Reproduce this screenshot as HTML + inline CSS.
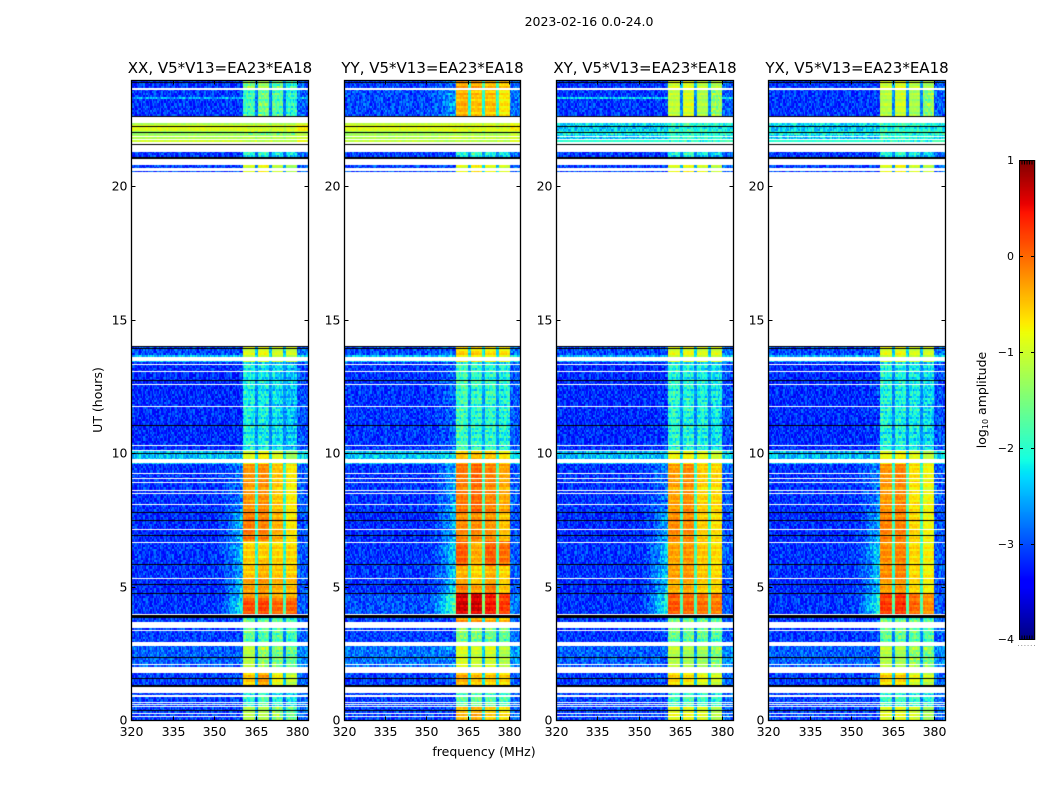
<!DOCTYPE html>
<html>
<head>
<meta charset="utf-8">
<title>2023-02-16 dynamic spectra</title>
<style>
html,body{margin:0;padding:0;background:#fff;}
#figure{position:relative;width:1050px;height:800px;overflow:hidden;background:#fff;font-family:"DejaVu Sans","Liberation Sans",sans-serif;}
canvas{position:absolute;display:block;}
#overlay{position:absolute;left:0;top:0;}
</style>
</head>
<body>
<div id="figure">
<canvas id="cv0"></canvas>
<canvas id="cv1"></canvas>
<canvas id="cv2"></canvas>
<canvas id="cv3"></canvas>
<canvas id="cvbar"></canvas>
<svg id="overlay" width="1050" height="800" viewBox="0 0 1050 800"></svg>
</div>
<script>
// ---------- chart data ----------
const panelTitles = ["XX, V5*V13=EA23*EA18","YY, V5*V13=EA23*EA18","XY, V5*V13=EA23*EA18","YX, V5*V13=EA23*EA18"];
const figureTitle = "2023-02-16 0.0-24.0";
const freqTicks = [320,335,350,365,380];
const hourTicks = [0,5,10,15,20];
const colorTicks = [1,0,-1,-2,-3,-4];
const colorMinorTicks = [0.98,0.95,0.9,0.85,0.78,-3.78,-3.85,-3.9,-3.95,-3.98];

// frequency structure (MHz): four RFI sub-bands separated by narrow gaps
const subBands = [[360.5,365],[365.8,370],[370.8,375],[375.8,380]];
const gapBands = [[365,365.8],[370,370.8],[375,375.8]];

// flagged (white) time ranges, hours [top, bottom]
const flaggedHours = [[23.70,23.64],[22.61,22.39],[21.90,21.86],[21.79,21.75],[21.66,21.60],[21.56,21.30],[21.04,20.81],[20.70,20.60],[20.55,14.03],[13.61,13.46],[13.35,13.31],[13.10,13.07],[12.60,12.56],[11.78,11.74],[10.31,10.28],[10.14,10.11],[9.79,9.62],[9.26,9.23],[9.06,9.02],[8.91,8.89],[8.64,8.60],[8.50,8.46],[8.10,8.06],[7.16,7.13],[6.68,6.64],[5.33,5.29],[3.98,3.94],[3.68,3.45],[3.38,3.33],[2.94,2.79],[2.09,2.05],[1.97,1.76],[1.22,1.01],[0.92,0.88],[0.68,0.64],[0.60,0.56],[0.53,0.49],[0.28,0.25],[0.14,0.11]];
// empty (black) integrations, hours [top, bottom]
const blackHours = [[23.93,23.87],[22.64,22.61],[22.28,22.24],[22.04,22.01],[21.60,21.56],[21.11,21.04],[14.03,14.00],[13.95,13.93],[12.75,12.71],[11.06,11.03],[10.02,9.99],[7.80,7.76],[7.50,7.46],[6.94,6.89],[5.84,5.80],[5.10,5.06],[4.75,4.72],[3.94,3.81],[2.35,2.31],[1.58,1.54],[1.33,1.22],[0.39,0.36]];

// log10 amplitude per time block: from, to, quiet, shoulder, band1, band2, band3, band4, gap
const levelsXX = [
[0,0.5,-3.05,-3.05,-1.2,-1.2,-1.4,-1.7,-2.6],[0.5,1.3,-3.05,-3.05,-2.05,-1.85,-2.15,-2.25,-2.9],
[1.3,2.0,-3.05,-2.95,-0.55,-0.3,-0.8,-1.1,-2.4],[2.0,2.9,-2.9,-2.9,-1.15,-1.35,-1.5,-1.65,-2.7],
[2.9,3.9,-3.05,-3.05,-1.7,-1.75,-1.75,-1.9,-2.7],[3.9,4.6,-3.12,-2.0,0.15,0.2,0.0,0.05,-1.8],
[4.6,5.3,-3.17,-2.3,-0.3,-0.25,-0.4,-0.45,-2.0],[5.3,6.0,-3.12,-2.5,-0.5,-0.4,-0.5,-0.55,-2.0],
[6.0,6.7,-3.12,-2.4,-0.55,-0.55,-0.6,-0.6,-2.0],[6.7,7.8,-3.17,-2.4,-0.1,-0.15,-0.4,-0.7,-2.0],
[7.8,9.6,-3.12,-2.7,-0.25,-0.2,-0.5,-0.7,-2.0],[9.6,10.05,-2.4,-2.4,-0.9,-0.75,-0.9,-1.3,-2.2],
[10.05,13.45,-3.17,-3.17,-2.1,-2.15,-2.25,-2.4,-2.7],[13.45,13.7,-2.4,-2.4,-1.0,-0.9,-1.0,-1.1,-2.2],
[13.7,14.1,-3.0,-3.0,-0.95,-0.85,-1.0,-1.0,-2.4],[20.5,20.95,-3.05,-3.05,-1.0,-0.8,-1.1,-1.3,-2.6],
[20.95,21.35,-3.1,-3.1,-2.05,-1.95,-2.15,-2.25,-2.9],[21.35,21.75,-1.0,-1.0,-1.0,-1.0,-1.0,-1.0,-1.1],
[21.75,21.9,-1.2,-1.2,-1.2,-1.2,-1.2,-1.2,-1.3],[21.9,22.05,-1.35,-1.35,-1.35,-1.35,-1.35,-1.35,-1.5],
[22.05,22.3,-0.9,-0.9,-0.9,-0.9,-0.9,-0.9,-1.0],[22.3,22.5,-1.25,-1.25,-1.2,-1.2,-1.2,-1.2,-1.3],
[22.5,23.3,-3.1,-3.1,-1.85,-1.55,-1.75,-2.0,-2.8],[23.3,23.4,-2.5,-2.5,-1.85,-1.55,-1.75,-2.0,-2.8],
[23.4,23.7,-3.1,-3.1,-1.85,-1.55,-1.75,-2.0,-2.8],[23.7,24,-3.1,-3.1,-1.45,-1.25,-1.6,-1.95,-2.6]];
const levelsYY = [
[0,0.5,-3.05,-3.05,-0.5,-0.4,-0.6,-0.7,-2.2],[0.5,1.3,-3.05,-3.05,-1.75,-1.65,-1.75,-1.85,-2.7],
[1.3,2.0,-3.05,-2.95,-0.4,-0.5,-0.55,-0.6,-2.2],[2.0,2.9,-2.8,-2.75,-0.95,-1.05,-1.0,-1.2,-2.4],
[2.9,3.6,-3.05,-3.05,-1.45,-1.55,-1.55,-1.65,-2.6],[3.6,3.9,-3.05,-3.05,-0.3,-0.35,-0.4,-0.5,-2.2],
[3.9,4.7,-2.97,-1.6,0.65,0.65,0.45,0.25,-1.5],[4.7,5.1,-3.12,-2.2,-0.1,-0.3,-0.1,-0.5,-1.8],
[5.1,5.8,-3.12,-2.3,-0.4,-0.6,-0.4,-0.6,-1.8],[5.8,6.7,-3.12,-2.2,0.05,-0.35,0.05,-0.05,-1.7],
[6.7,7.8,-3.17,-2.4,-0.2,-0.2,-0.25,-0.5,-1.8],[7.8,9.6,-3.12,-2.5,-0.1,0.0,-0.15,-0.35,-1.8],
[9.6,10.05,-2.4,-2.3,-0.5,-0.45,-0.5,-0.7,-2.0],[10.05,13.45,-3.12,-2.85,-1.85,-1.95,-1.95,-2.05,-2.6],
[13.45,13.7,-2.4,-2.3,-0.7,-0.65,-0.75,-0.8,-2.0],[13.7,14.1,-3.0,-2.85,-0.6,-0.6,-0.7,-0.7,-2.2],
[20.5,20.95,-3.05,-3.05,-0.9,-0.7,-0.9,-1.0,-2.4],[20.95,21.35,-3.05,-3.05,-2.05,-1.85,-2.05,-2.15,-2.7],
[21.35,21.75,-1.1,-1.0,-1.0,-1.0,-1.0,-1.0,-1.2],[21.75,21.9,-1.2,-1.1,-1.1,-1.1,-1.1,-1.1,-1.3],
[21.9,22.05,-1.3,-1.2,-1.2,-1.2,-1.2,-1.2,-1.4],[22.05,22.3,-0.9,-0.8,-0.85,-0.85,-0.85,-0.85,-1.0],
[22.3,22.5,-1.1,-1.0,-1.0,-1.0,-1.0,-1.0,-1.2],[22.5,23.7,-3.0,-2.55,-0.4,-0.5,-0.5,-0.7,-2.0],
[23.7,24,-3.05,-2.75,-0.3,-0.3,-0.4,-0.5,-1.9]];
const levelsXY = [
[0,0.5,-3.05,-3.05,-0.9,-0.85,-0.95,-1.2,-2.4],[0.5,1.3,-3.05,-3.05,-1.95,-1.85,-1.95,-2.05,-2.8],
[1.3,2.0,-3.05,-2.95,-0.6,-0.7,-0.9,-1.0,-2.4],[2.0,2.9,-2.9,-2.9,-1.15,-1.25,-1.3,-1.45,-2.6],
[2.9,3.9,-3.1,-3.05,-1.6,-1.6,-1.65,-1.75,-2.7],[3.9,4.7,-3.12,-1.9,0.1,0.0,-0.05,-0.1,-1.8],
[4.7,5.3,-3.17,-2.3,-0.4,-0.35,-0.55,-0.6,-2.0],[5.3,6.7,-3.12,-2.3,-0.3,-0.25,-0.5,-0.6,-1.9],
[6.7,7.8,-3.17,-2.5,-0.2,-0.2,-0.55,-0.65,-1.9],[7.8,9.6,-3.12,-2.7,-0.3,-0.2,-0.55,-0.6,-1.9],
[9.6,10.05,-2.45,-2.45,-0.8,-0.75,-0.85,-1.0,-2.2],[10.05,13.45,-3.17,-3.12,-2.0,-2.05,-2.1,-2.2,-2.7],
[13.45,13.7,-2.5,-2.5,-0.95,-0.9,-0.95,-1.0,-2.2],[13.7,14.1,-3.0,-3.0,-0.9,-0.85,-0.95,-0.95,-2.4],
[20.5,20.95,-3.05,-3.05,-0.9,-0.8,-0.95,-1.1,-2.6],[20.95,21.35,-3.1,-3.1,-2.05,-1.95,-2.15,-2.25,-2.8],
[21.35,21.75,-2.0,-2.0,-1.75,-1.75,-1.85,-1.85,-1.9],[21.75,21.9,-2.4,-2.4,-1.95,-1.95,-2.05,-2.05,-2.2],
[21.9,22.05,-2.1,-2.1,-1.85,-1.85,-1.95,-1.95,-2.0],[22.05,22.3,-2.35,-2.35,-1.95,-1.85,-1.95,-2.05,-2.2],
[22.3,22.5,-2.25,-2.25,-1.85,-1.75,-1.85,-1.95,-2.1],[22.5,23.3,-3.1,-3.1,-1.1,-0.95,-1.2,-1.35,-2.7],
[23.3,23.4,-2.3,-2.3,-1.1,-0.95,-1.2,-1.35,-2.7],[23.4,23.7,-3.1,-3.1,-1.1,-0.95,-1.2,-1.35,-2.7],
[23.7,24,-3.1,-3.1,-0.95,-0.85,-1.05,-1.15,-2.5]];
const levelsYX = [
[0,0.5,-3.05,-3.05,-0.95,-0.9,-1.0,-1.3,-2.4],[0.5,1.3,-3.05,-3.05,-1.95,-1.9,-2.0,-2.1,-2.8],
[1.3,2.0,-3.05,-2.95,-0.6,-0.6,-0.9,-1.05,-2.4],[2.0,2.9,-2.9,-2.9,-1.15,-1.25,-1.35,-1.5,-2.6],
[2.9,3.9,-3.1,-3.05,-1.65,-1.65,-1.7,-1.8,-2.7],[3.9,4.7,-3.12,-1.9,0.25,0.3,0.0,-0.2,-1.8],
[4.7,5.3,-3.17,-2.3,-0.3,-0.25,-0.6,-0.75,-2.0],[5.3,6.7,-3.12,-2.3,-0.2,-0.15,-0.6,-0.75,-1.9],
[6.7,7.8,-3.17,-2.5,-0.15,-0.15,-0.6,-0.8,-1.9],[7.8,9.6,-3.12,-2.7,-0.25,-0.15,-0.65,-0.8,-1.9],
[9.6,10.05,-2.45,-2.45,-0.85,-0.75,-0.9,-1.1,-2.2],[10.05,13.45,-3.17,-3.12,-2.05,-2.1,-2.15,-2.25,-2.7],
[13.45,13.7,-2.5,-2.5,-1.0,-0.9,-1.0,-1.05,-2.2],[13.7,14.1,-3.0,-3.0,-0.9,-0.85,-1.0,-1.0,-2.4],
[20.5,20.95,-3.05,-3.05,-0.95,-0.8,-1.0,-1.15,-2.6],[20.95,21.35,-3.1,-3.1,-2.05,-1.95,-2.15,-2.25,-2.8],
[21.35,21.75,-2.0,-2.0,-1.75,-1.75,-1.85,-1.85,-1.9],[21.75,21.9,-2.4,-2.4,-1.95,-1.95,-2.05,-2.05,-2.2],
[21.9,22.05,-2.1,-2.1,-1.85,-1.85,-1.95,-1.95,-2.0],[22.05,22.3,-2.35,-2.35,-1.95,-1.85,-1.95,-2.05,-2.2],
[22.3,22.5,-2.25,-2.25,-1.85,-1.75,-1.85,-1.95,-2.1],[22.5,23.7,-3.1,-3.1,-1.15,-1.0,-1.25,-1.4,-2.7],
[23.7,24,-3.1,-3.1,-1.0,-0.9,-1.1,-1.2,-2.5]];
const panelLevels = [levelsXX,levelsYY,levelsXY,levelsYX];

// typed-in small-scale texture residuals (digit 0-9, centred on 4.5)
const textureTile = [
"4271936058124739502618473925061",
"6139240785361820947153602874193",
"2805174693028516374920185763402",
"7340962158473061289534706192835",
"1526083947215964038172569340271",
"9053718264906137825046319782054",
"3682401579330472619858204716392",
"5147926038651820394761253089476",
"0893572416274956183027468591320",
"4316085792139047265813902476158",
"7254931680548213796042517398026",
"2609147538860375124689730251643",
"8431260975312964057328146097582",
"1975348206497021863595082634719",
"6028713495150648372917364082531",
"3560892147829315406284957106243",
"9147306258463072591436018725960"];
// typed-in row-to-row striping of the bright sub-bands (log10 units)
const rowStripe = [0.08,-0.12,0.15,0.02,-0.18,0.1,-0.05,0.2,-0.14,0.04,0.12,-0.2,0.06];

// ---------- axis functions ----------
const FREQ_MIN = 320, FREQ_MAX = 384, HOUR_MIN = 0, HOUR_MAX = 24;
const PLOT_TOP = 80, PLOT_BOTTOM = 720;
const panelLeft = i => 131.3 + i * 212.3;
const PANEL_W = 176.8;
const xPix = mhz => (mhz - FREQ_MIN) / (FREQ_MAX - FREQ_MIN) * PANEL_W;
const yPix = h => (HOUR_MAX - h) / (HOUR_MAX - HOUR_MIN) * (PLOT_BOTTOM - PLOT_TOP);
const BAR_TOP = 160, BAR_BOTTOM = 640, BAR_LEFT = 1019, BAR_W = 16, V_MAX = 1, V_MIN = -4;
const barY = v => BAR_TOP + (V_MAX - v) / (V_MAX - V_MIN) * (BAR_BOTTOM - BAR_TOP);

function ramp(t, pts){
  if (t <= pts[0][0]) return pts[0][1];
  for (let i = 1; i < pts.length; i++){
    if (t <= pts[i][0]){
      const a = pts[i-1], b = pts[i];
      return a[1] + (b[1]-a[1]) * (t-a[0]) / (b[0]-a[0]);
    }
  }
  return pts[pts.length-1][1];
}
function jet(v){
  const t = Math.max(0, Math.min(1, (v - V_MIN) / (V_MAX - V_MIN)));
  const r = ramp(t, [[0.35,0],[0.66,1],[0.89,1],[1,0.5]]);
  const g = ramp(t, [[0.125,0],[0.375,1],[0.64,1],[0.91,0]]);
  const b = ramp(t, [[0,0.5],[0.11,1],[0.34,1],[0.65,0]]);
  return "rgb(" + Math.round(r*255) + "," + Math.round(g*255) + "," + Math.round(b*255) + ")";
}

// ---------- heatmap cells ----------
const ROW_STEP = 0.08, CHAN_STEP = 0.5;
function blockAt(levels, h){
  for (const row of levels){ if (h >= row[0] && h < row[1]) return row; }
  return null;
}
function cellValue(block, mhz, rowIdx, chanIdx, panel){
  const tr = textureTile[(rowIdx + panel * 7) % textureTile.length];
  const d = +tr[(chanIdx + panel * 11 + rowIdx * 13) % tr.length] - 4.5;
  const quiet = block[2], shoulder = block[3];
  const stripe = rowStripe[rowIdx % rowStripe.length];
  const bi = subBands.findIndex(b => mhz >= b[0] && mhz < b[1]);
  if (bi >= 0){
    const lev = block[4 + bi];
    return lev < -1.3 ? lev + d * 0.08 + stripe * 1.2 : lev + d * 0.025 + stripe * 0.8;
  }
  if (gapBands.some(b => mhz >= b[0] && mhz < b[1])) return block[8] + d * 0.05;
  const noise = quiet < -2 ? d * 0.085 : d * 0.025;
  if (mhz >= 380) return quiet + 0.2 + noise;
  if (mhz >= 350){
    const f = (mhz - 350) / (360.5 - 350);
    return quiet + (shoulder - quiet) * Math.pow(f, 1.6) + noise + (shoulder > quiet ? stripe * f : 0);
  }
  return quiet + noise;
}
function drawPanel(i){
  const cv = document.getElementById("cv" + i);
  const left = Math.round(panelLeft(i));
  const w = Math.round(panelLeft(i) + PANEL_W) - left, h = PLOT_BOTTOM - PLOT_TOP;
  cv.width = w; cv.height = h;
  cv.style.left = left + "px"; cv.style.top = PLOT_TOP + "px";
  const ctx = cv.getContext("2d");
  ctx.fillStyle = "#fff"; ctx.fillRect(0,0,w,h);
  const nRows = Math.round((HOUR_MAX - HOUR_MIN) / ROW_STEP);
  const nChans = Math.round((FREQ_MAX - FREQ_MIN) / CHAN_STEP);
  for (let r = 0; r < nRows; r++){
    const hr = HOUR_MIN + r * ROW_STEP;
    const block = blockAt(panelLevels[i], hr + ROW_STEP / 2);
    if (!block) continue;
    const y0 = Math.round(yPix(hr + ROW_STEP)), y1 = Math.round(yPix(hr));
    for (let c = 0; c < nChans; c++){
      const mhz = FREQ_MIN + c * CHAN_STEP;
      const x0 = Math.round(xPix(mhz)), x1 = Math.round(xPix(mhz + CHAN_STEP));
      ctx.fillStyle = jet(cellValue(block, mhz + CHAN_STEP / 2, r, c, i));
      ctx.fillRect(x0, y0, x1 - x0, y1 - y0);
    }
  }
  ctx.fillStyle = "#fff";
  for (const f of flaggedHours){
    const y0 = Math.round(yPix(f[0])), y1 = Math.max(y0 + 1, Math.round(yPix(f[1])));
    ctx.fillRect(0, y0, w, y1 - y0);
  }
  ctx.fillStyle = "#000";
  for (const f of blackHours){
    const y0 = Math.round(yPix(f[0])), y1 = Math.max(y0 + 1, Math.round(yPix(f[1])));
    ctx.fillRect(0, y0, w, y1 - y0);
  }
}
panelTitles.forEach((_, i) => drawPanel(i));

// ---------- colorbar ----------
(function(){
  const cv = document.getElementById("cvbar");
  cv.width = BAR_W; cv.height = BAR_BOTTOM - BAR_TOP;
  cv.style.left = BAR_LEFT + "px"; cv.style.top = BAR_TOP + "px";
  const ctx = cv.getContext("2d");
  for (let p = 0; p < cv.height; p++){
    ctx.fillStyle = jet(V_MAX - (p + 0.5) / cv.height * (V_MAX - V_MIN));
    ctx.fillRect(0, p, BAR_W, 1);
  }
})();

// ---------- overlay ----------
const svg = document.getElementById("overlay");
const NS = "http://www.w3.org/2000/svg";
function make(tag, props, text){
  const el = document.createElementNS(NS, tag);
  for (const k in props) el.setAttribute(k, props[k]);
  if (text !== undefined) el.textContent = text;
  svg.appendChild(el);
  return el;
}
function line(x1, y1, x2, y2, name){
  const el = make("line", {x1:x1, y1:y1, x2:x2, y2:y2, stroke:"#000", "stroke-width":1});
  
  
  return el;
}
const TICK_FONT = 12.5;
panelTitles.forEach((title, i) => {
  const left = Math.round(panelLeft(i)) + 0.5;
  const right = Math.round(panelLeft(i) + PANEL_W) + 0.5;
  const frame = make("rect", {x:left, y:PLOT_TOP + 0.5, width:right - left, height:PLOT_BOTTOM - PLOT_TOP, fill:"none", stroke:"#000", "stroke-width":1.3});
  
  

  const t = make("text", {x:(left + right) / 2, y:73, "text-anchor":"middle", "font-size":15, fill:"#000"}, title);
  
  

  freqTicks.forEach(v => {
    const x = Math.round(panelLeft(i) + xPix(v)) + 0.5;
    line(x, PLOT_BOTTOM + 0.5, x, PLOT_BOTTOM - 3.5, 'x-tick');
    line(x, PLOT_TOP + 0.5, x, PLOT_TOP + 4.5, 'x-tick-top');
    const lab = make("text", {x:x, y:736, "text-anchor":"middle", "font-size":TICK_FONT, fill:"#000"}, String(v));
    
    
  });
  hourTicks.forEach(v => {
    const y = Math.round(PLOT_TOP + yPix(v)) + 0.5 - (v === 20 ? 1 : 0);
    line(left, y, left + 4, y, 'y-tick');
    line(right, y, right - 4, y, 'y-tick-right');
    const lab = make("text", {x:left - 4, y:y + 4, "text-anchor":"end", "font-size":TICK_FONT, fill:"#000"}, String(v));
    
    
  });
});

const sup = make("text", {x:589, y:26, "text-anchor":"middle", "font-size":12.5, fill:"#000"}, figureTitle);



const xlab = make("text", {x:484, y:756, "text-anchor":"middle", "font-size":12.5, fill:"#000"}, "frequency (MHz)");



const ylab = make("text", {x:0, y:0, transform:"translate(102,400) rotate(-90)", "text-anchor":"middle", "font-size":12.5, fill:"#000"}, "UT (hours)");



const cbl = make("text", {x:0, y:0, transform:"translate(986,400) rotate(-90)", "text-anchor":"middle", "font-size":12.5, fill:"#000"});


const s1 = document.createElementNS(NS, "tspan"); s1.textContent = "log"; cbl.appendChild(s1);
const s2 = document.createElementNS(NS, "tspan"); s2.textContent = "10"; s2.setAttribute("font-size", "8"); s2.setAttribute("dy", "2"); cbl.appendChild(s2);
const s3 = document.createElementNS(NS, "tspan"); s3.textContent = " amplitude"; s3.setAttribute("dy", "-2"); cbl.appendChild(s3);

const barFrame = make("rect", {x:BAR_LEFT + 0.5, y:BAR_TOP + 0.5, width:BAR_W - 1, height:BAR_BOTTOM - BAR_TOP - 1, fill:"none", stroke:"#000", "stroke-width":1});


const barEdge = make("rect", {x:BAR_LEFT + BAR_W, y:BAR_TOP, width:1, height:BAR_BOTTOM - BAR_TOP, fill:"#c4c4c4"});



colorTicks.forEach(v => {
  const y = Math.round(barY(v)) + (v === V_MIN ? -0.5 : 0.5);
  line(BAR_LEFT, y, BAR_LEFT + 4, y, 'colorbar-tick');
  line(BAR_LEFT + BAR_W, y, BAR_LEFT + BAR_W - 4, y, 'colorbar-tick-right');
  const lab = make("text", {x:BAR_LEFT - 5, y:y + 3.5, "text-anchor":"end", "font-size":11, fill:"#000"}, String(v).replace("-", "\u2212"));
  
  
});
colorMinorTicks.forEach((v, k) => {
  const x = BAR_LEFT + 3 + k % 5 * 2.5;
  const y = v > 0 ? BAR_TOP + 0.5 : BAR_BOTTOM - 0.5;
  const dir = v > 0 ? 4 : -4;
  line(x, y, x, y + dir, 'colorbar-minor-tick');
});
for (let k = 0; k < 6; k++){
  const dot = make("rect", {x:BAR_LEFT - 1 + k * 3.2, y:645, width:1, height:1, fill:"#999"});
  
  
}
</script>
</body>
</html>
